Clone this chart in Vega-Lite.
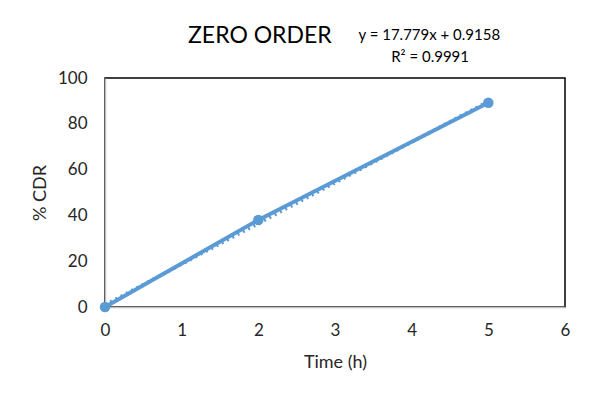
{
  "$schema": "https://vega.github.io/schema/vega-lite/v6.json",
  "autosize": "none",
  "width": 460,
  "height": 229,
  "padding": {"left": 105, "top": 78, "right": 28, "bottom": 93},
  "background": "white",
  "config": {
    "font": "Lato",
    "view": {"stroke": "black", "strokeWidth": 1.5},
    "axis": {"grid": false, "ticks": false, "domainColor": "#bfbfbf", "domainWidth": 1.5, "labelFont": "Lato", "labelFontSize": 17, "labelColor": "#262626", "labelFlush": false, "titleFont": "Lato", "titleFontSize": 18, "titleFontWeight": "normal", "titleColor": "#262626"}
  },
  "layer": [
    {
      "data": {"values": [
        {"time": 0, "cdr": 0},
        {"time": 2, "cdr": 38.0},
        {"time": 5, "cdr": 89.2}
      ]},
      "layer": [
        {
          "mark": {"type": "line", "color": "#5b9bd5", "strokeWidth": 4, "point": {"filled": true, "size": 110, "color": "#5b9bd5", "opacity": 1}},
          "encoding": {
            "x": {"field": "time", "type": "quantitative", "scale": {"domain": [0, 6], "nice": false}, "axis": {"values": [0, 1, 2, 3, 4, 5, 6], "format": "d", "title": "Time (h)", "labelPadding": 15, "titleY": 55, "titleBaseline": "middle"}},
            "y": {"field": "cdr", "type": "quantitative", "scale": {"domain": [0, 100], "nice": false}, "axis": {"values": [0, 20, 40, 60, 80, 100], "title": "% CDR", "labelPadding": 18, "titleX": -65, "titleY": 114.5, "titleBaseline": "middle", "titleAlign": "center", "titleAngle": -90}}
          }
        },
        {
          "transform": [{"regression": "cdr", "on": "time", "method": "linear"}],
          "mark": {"type": "line", "color": "#5b9bd5", "strokeWidth": 3.5, "strokeDash": [2, 4]},
          "encoding": {
            "x": {"field": "time", "type": "quantitative"},
            "y": {"field": "cdr", "type": "quantitative"}
          }
        }
      ]
    },
    {
      "data": {"values": [{"label": "ZERO ORDER"}]},
      "mark": {"type": "text", "fontSize": 23, "font": "Lato", "fill": "black", "align": "center", "baseline": "middle", "clip": false},
      "encoding": {
        "x": {"datum": 2.02},
        "y": {"datum": 118.3},
        "text": {"field": "label"}
      }
    },
    {
      "data": {"values": [{"label": "y = 17.779x + 0.9158"}]},
      "mark": {"type": "text", "fontSize": 15, "font": "Lato", "fill": "black", "align": "center", "baseline": "middle", "clip": false},
      "encoding": {
        "x": {"datum": 4.23},
        "y": {"datum": 118.8},
        "text": {"field": "label"}
      }
    },
    {
      "data": {"values": [{"label": "R² = 0.9991"}]},
      "mark": {"type": "text", "fontSize": 15, "font": "Lato", "fill": "black", "align": "center", "baseline": "middle", "clip": false},
      "encoding": {
        "x": {"datum": 4.24},
        "y": {"datum": 109.2},
        "text": {"field": "label"}
      }
    }
  ]
}
